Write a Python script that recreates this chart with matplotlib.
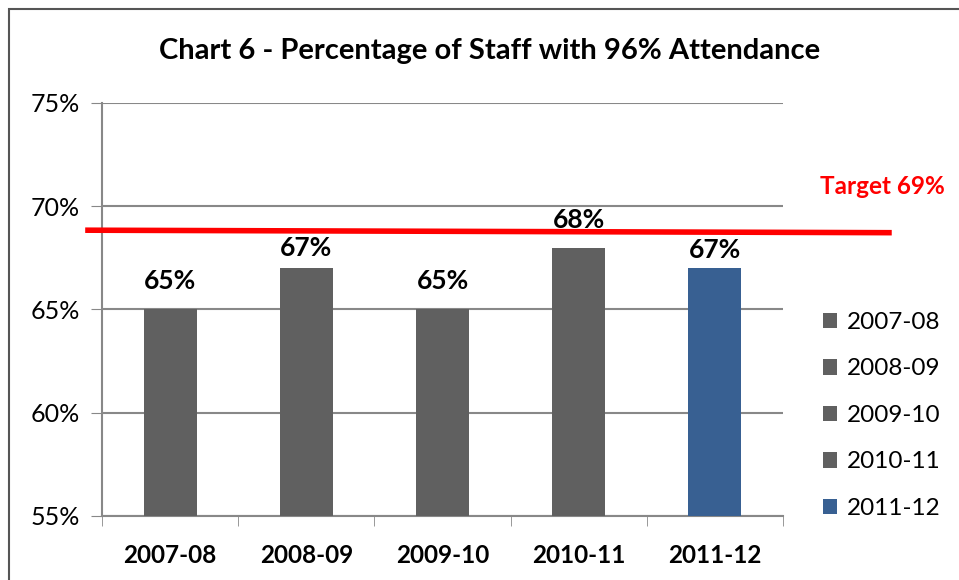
import matplotlib.pyplot as plt
from matplotlib.patches import Rectangle, Patch

plt.rcParams['font.family'] = ['Lato', 'DejaVu Sans']

years = ["2007-08", "2008-09", "2009-10", "2010-11", "2011-12"]
values = [65, 67, 65, 68, 67]
colors = ["#606060", "#606060", "#606060", "#606060", "#386092"]
target = 69
# red line as drawn in the original (slightly sloped, just under 69)
target_line_y = [68.84, 68.72]

W, H = 959, 580
fig = plt.figure(figsize=(W / 100, H / 100), dpi=100)

# outer chart frame
fig.patches.append(Rectangle((9 / W, -0.1), 1.2, 1 - 9 / H + 0.1, transform=fig.transFigure,
                             fill=False, edgecolor="#555555", linewidth=1.5))

ax = fig.add_axes([102 / W, 1 - 516 / H, (783 - 102) / W, (516 - 103) / H])
x = range(len(years))
ax.bar(x, values, width=0.39, color=colors, zorder=3)
ax.set_xlim(-0.5, 4.5)
ax.set_ylim(55, 75)
ax.set_yticks([55, 60, 65, 70, 75])
ax.set_yticklabels([f"{v}%" for v in [55, 60, 65, 70, 75]], fontsize=18)
ax.set_xticks(list(x))
ax.set_xticklabels(years, fontsize=17.5, fontweight="bold")
ax.set_xticks([-0.5, 0.5, 1.5, 2.5, 3.5, 4.5], minor=True)
ax.tick_params(axis="x", which="major", length=0, pad=20)
ax.tick_params(axis="x", which="minor", length=7, color="#888888")
ax.tick_params(axis="y", length=8, color="#888888", pad=8)
ax.grid(axis="y", color="#888888", linewidth=1.5, zorder=0)
for s in ["top", "right"]:
    ax.spines[s].set_visible(False)
for s in ["left", "bottom"]:
    ax.spines[s].set_color("#888888")
    ax.spines[s].set_linewidth(1.5)

# value labels; the ones that would hit the target line sit just under it
lx = [-0.603, 5.278]
txt_h = 0.87
for xi, v in zip(x, values):
    line_here = target_line_y[0] + (xi - lx[0]) / (lx[1] - lx[0]) * (target_line_y[1] - target_line_y[0])
    base = v + 0.97
    if base < line_here and base + txt_h > line_here - 0.36:
        base = line_here - 0.36 - txt_h
    ax.text(xi, base, f"{v}%", ha="center", va="baseline", fontsize=19, fontweight="bold", zorder=5)

ax.plot(lx, target_line_y, color="red", linewidth=4, clip_on=False, zorder=4)
fig.text(882 / W, 1 - 187 / H, f"Target {target}%", color="red", fontsize=17.5, fontweight="bold",
         ha="center", va="center")

fig.text(0.5 * (160 + 820) / W, 1 - 51 / H, "Chart 6 - Percentage of Staff with 96% Attendance",
         fontsize=21, fontweight="bold", ha="center", va="center")

handles = [Patch(facecolor=c) for c in colors]
fig.legend(handles, years, loc="upper left", bbox_to_anchor=(801 / W, 1 - 290 / H), frameon=False,
           fontsize=17.5, handlelength=0.6, handleheight=0.6, handletextpad=0.4, labelspacing=1.05)

fig.savefig("out.png", dpi=100)
